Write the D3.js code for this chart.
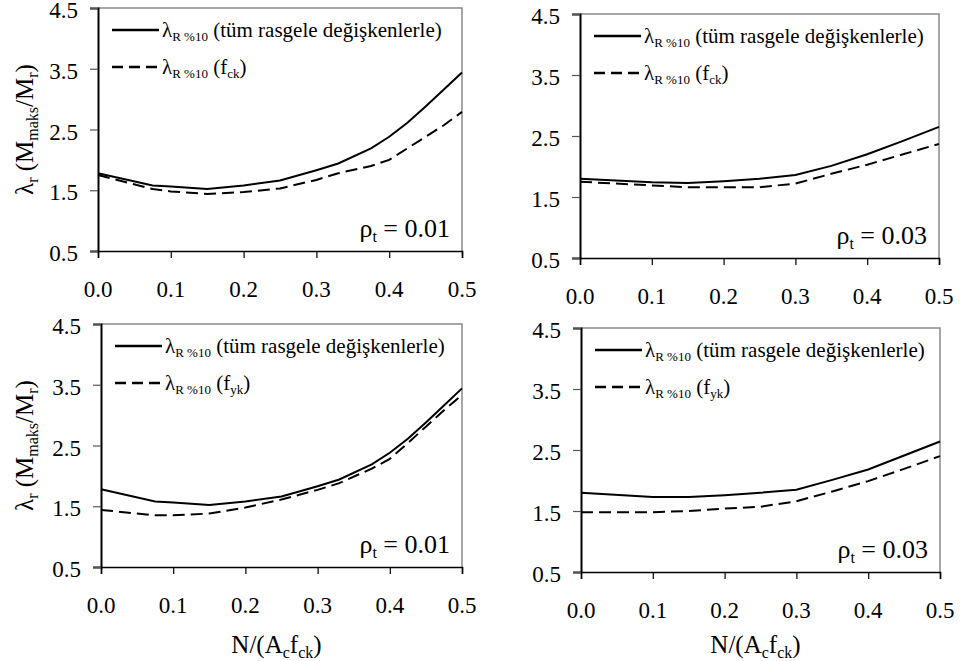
<!DOCTYPE html>
<html>
<head>
<meta charset="utf-8">
<script src="https://cdn.jsdelivr.net/npm/d3@7"></script>
</head>
<body style="margin:0">
<svg id="fig" width="960" height="661"></svg>
<script>
// ---------------- DATA ----------------
const xTicks = [0.0, 0.1, 0.2, 0.3, 0.4, 0.5];
const yTicks = [0.5, 1.5, 2.5, 3.5, 4.5];

const nRho1 = [0, 0.075, 0.1, 0.15, 0.2, 0.25, 0.3, 0.33, 0.375, 0.4, 0.425, 0.45, 0.475, 0.5];
const nRho3 = [0, 0.1, 0.15, 0.2, 0.25, 0.3, 0.35, 0.4, 0.45, 0.5];

// top-left: rho = 0.01, all random variables vs f_ck
const allRho1 = [1.78, 1.58, 1.56, 1.52, 1.58, 1.66, 1.83, 1.94, 2.19, 2.38, 2.61, 2.88, 3.16, 3.44];
const fckRho1 = [1.75, 1.52, 1.48, 1.44, 1.47, 1.53, 1.67, 1.78, 1.90, 2.00, 2.19, 2.38, 2.57, 2.79];
// top-right: rho = 0.03
const allRho3 = [1.80, 1.74, 1.73, 1.76, 1.80, 1.86, 2.01, 2.20, 2.42, 2.65];
const fckRho3 = [1.75, 1.69, 1.66, 1.66, 1.66, 1.72, 1.88, 2.03, 2.20, 2.37];
// bottom-left: rho = 0.01, f_yk
const fykRho1 = [1.44, 1.35, 1.35, 1.38, 1.48, 1.61, 1.77, 1.88, 2.12, 2.28, 2.54, 2.81, 3.08, 3.33];
// bottom-right: rho = 0.03, f_yk
const allRho3b = [1.80, 1.73, 1.73, 1.76, 1.80, 1.85, 2.01, 2.18, 2.41, 2.64];
const fykRho3 = [1.48, 1.48, 1.50, 1.54, 1.57, 1.66, 1.82, 1.99, 2.19, 2.40];

const rhoLabels = ["0.01", "0.03", "0.01", "0.03"];
const legendAll = "(tüm rasgele değişkenlerle)";
const legendVar = ["ck", "ck", "yk", "yk"];

// ---------------- LAYOUT ----------------
const panels = [
  { l: 98,  r: 462, t: 8,   b: 251, n: nRho1, s1: allRho1,  s2: fckRho1, yTitle: true,  xTitle: false },
  { l: 580, r: 939, t: 14,  b: 258, n: nRho3, s1: allRho3,  s2: fckRho3, yTitle: false, xTitle: false },
  { l: 101, r: 462, t: 324, b: 567, n: nRho1, s1: allRho1,  s2: fykRho1, yTitle: true,  xTitle: true },
  { l: 581, r: 940, t: 328, b: 572, n: nRho3, s1: allRho3b, s2: fykRho3, yTitle: false, xTitle: true }
];

const svg = d3.select("#fig");

function addText(parent, size) {
  return parent.append("text")
    .style("font-family", '"Liberation Serif"', "important")
    .attr("font-size", size);
}
function part(t, s, size, dy) {
  const ts = t.append("tspan").style("font-family", '"Liberation Serif"', "important").text(s);
  if (size) ts.attr("font-size", size);
  if (dy) ts.attr("dy", dy);
  return ts;
}

panels.forEach((p, i) => {
  const g = svg.append("g");
  const x = d3.scaleLinear().domain([0, 0.5]).range([p.l, p.r]);
  const y = d3.scaleLinear().domain([0.5, 4.5]).range([p.b, p.t]);

  // border (top/right gray)
  g.append("path")
    .attr("d", `M${p.l},${p.t}H${p.r}V${p.b}`)
    .attr("fill", "none").attr("stroke", "#8a8a8a").attr("stroke-width", 1.5);

  // x axis
  const xa = g.append("g").attr("transform", `translate(0,${p.b})`)
    .call(d3.axisBottom(x).tickValues(xTicks).tickFormat("").tickSize(7));
  xa.select(".domain").attr("stroke", "#000").attr("stroke-width", 1.6);
  xa.selectAll(".tick line").attr("stroke", "#000").attr("stroke-width", 1.2);
  xa.selectAll(".tick text").remove();
  xTicks.forEach(v => {
    addText(g, 23).attr("x", x(v)).attr("y", p.b + 46).attr("text-anchor", "middle").text(d3.format(".1f")(v));
  });

  // y axis
  const ya = g.append("g").attr("transform", `translate(${p.l},0)`)
    .call(d3.axisLeft(y).tickValues(yTicks).tickFormat("").tickSize(8));
  ya.select(".domain").attr("stroke", "#000").attr("stroke-width", 2);
  ya.selectAll(".tick line").attr("stroke", "#555").attr("stroke-width", 1.2);
  ya.selectAll(".tick text").remove();
  yTicks.forEach(v => {
    addText(g, 23).attr("x", p.l - 20).attr("y", y(v) + 10).attr("text-anchor", "end").text(d3.format(".1f")(v));
  });

  const line = d3.line().x((d, k) => x(p.n[k])).y(d => y(d));
  g.append("path").datum(p.s1).attr("d", line)
    .attr("fill", "none").attr("stroke", "#000").attr("stroke-width", 2);
  g.append("path").datum(p.s2).attr("d", line)
    .attr("fill", "none").attr("stroke", "#000").attr("stroke-width", 2).attr("stroke-dasharray", "12,6");

  // legend
  const lx0 = p.l + 14, lx1 = p.l + 61, ly1 = p.t + 22, ly2 = p.t + 59;
  g.append("line").attr("x1", lx0).attr("x2", lx1).attr("y1", ly1).attr("y2", ly1)
    .attr("stroke", "#000").attr("stroke-width", 2.5);
  g.append("line").attr("x1", lx0).attr("x2", lx1).attr("y1", ly2).attr("y2", ly2)
    .attr("stroke", "#000").attr("stroke-width", 2.5).attr("stroke-dasharray", "11,6");

  const t1 = addText(g, 21).attr("x", lx1 + 3).attr("y", ly1 + 7);
  part(t1, "λ");
  part(t1, "R %10", 13, 4);
  part(t1, " " + legendAll, null, -4);

  const t2 = addText(g, 21).attr("x", lx1 + 3).attr("y", ly2 + 7);
  part(t2, "λ");
  part(t2, "R %10", 13, 4);
  part(t2, " (f", null, -4);
  part(t2, legendVar[i], 13, 4);
  part(t2, ")", null, -4);

  // rho label
  const tr = addText(g, 26).attr("x", p.r - 12).attr("y", p.b - 14).attr("text-anchor", "end");
  part(tr, "ρ");
  part(tr, "t", 16, 5);
  part(tr, " = " + rhoLabels[i], null, -5);

  // y title
  if (p.yTitle) {
    const cy = (p.t + p.b) / 2;
    const ty = addText(g, 25).attr("transform", `translate(33,${cy}) rotate(-90)`).attr("text-anchor", "middle");
    part(ty, "λ");
    part(ty, "r", 16, 5);
    part(ty, " (M", null, -5);
    part(ty, "maks", 16, 5);
    part(ty, "/M", null, -5);
    part(ty, "r", 16, 5);
    part(ty, ")", null, -5);
  }
  // x title
  if (p.xTitle) {
    const cx = (p.l + p.r) / 2 - 5;
    const tx = addText(g, 25).attr("x", cx).attr("y", 653).attr("text-anchor", "middle");
    part(tx, "N/(A");
    part(tx, "c", 16, 5);
    part(tx, "f", null, -5);
    part(tx, "ck", 16, 5);
    part(tx, ")", null, -5);
  }
});
</script>
</body>
</html>
